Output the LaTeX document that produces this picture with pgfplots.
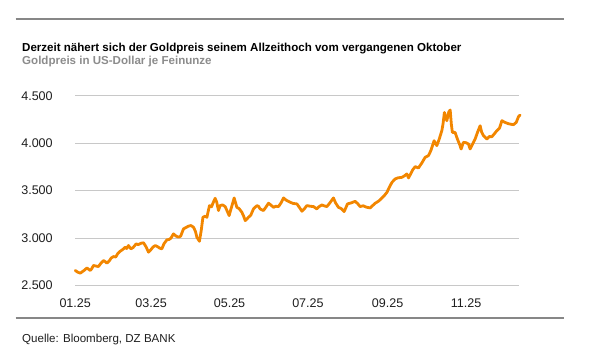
\documentclass[border=0pt]{standalone}
\usepackage{pgfplots}
\pgfplotsset{compat=1.18}
\usepackage{fontspec}
\setmainfont{Liberation Sans}
\definecolor{goldline}{RGB}{242,134,0}
\definecolor{gridgrey}{RGB}{200,200,200}
\definecolor{rulegrey}{RGB}{135,135,135}
\definecolor{subgrey}{RGB}{140,140,140}
\definecolor{ticktext}{RGB}{30,30,30}
\begin{document}
\begin{tikzpicture}[x=1bp,y=1bp]
\path[use as bounding box] (0,0) rectangle (605,355);
\draw[rulegrey, line width=2bp] (15.5,336) -- (564,336);
\draw[rulegrey, line width=2bp] (15.5,36.7) -- (564,36.7);
\node[anchor=base west, inner sep=0pt, font=\fontsize{11.6}{13}\selectfont\bfseries] at (22,303.3) {Derzeit nähert sich der Goldpreis seinem Allzeithoch vom vergangenen Oktober};
\node[anchor=base west, inner sep=0pt, text=subgrey, font=\fontsize{11.6}{13}\selectfont\bfseries] at (22,290.7) {Goldpreis in US-Dollar je Feinunze};
\node[anchor=base west, inner sep=0pt, text=ticktext, font=\fontsize{11.6}{13}\selectfont] at (22,12.3) {Quelle: Bloomberg, DZ BANK};
\begin{axis}[
  at={(58.5,73.3)}, anchor=south west,
  scale only axis, width=444bp, height=189.7bp,
  xmin=0, xmax=345.3, ymin=2500, ymax=4500,
  clip=false,
  axis line style={draw=none},
  major tick length=0pt,
  xtick={0,59,120,181,243,304},
  xticklabels={01.25,03.25,05.25,07.25,09.25,11.25},
  ytick={2500,3000,3500,4000,4500},
  ymajorgrids,
  major grid style={draw=gridgrey, line width=1bp},
  tick label style={font=\fontsize{12.6}{14}\selectfont, text=ticktext},
  xticklabel style={yshift=-10bp},
  yticklabel style={xshift=-19bp},
  /pgf/number format/assume math mode=true,
  /pgf/number format/1000 sep={.},
  /pgf/number format/fixed,
  scaled y ticks=false,
]
\addplot[goldline, line width=2.8bp, line join=round, line cap=round] table {
x y
0 2658
2 2640
3.9 2630
6 2650
7.5 2665
9.1 2686
10.5 2670
11.7 2658
13 2680
14.2 2711
16 2705
18.1 2700
20 2735
22 2763
23.5 2750
24.6 2735
26.5 2760
28 2790
29.8 2805
31.5 2800
33 2835
35 2861
37 2880
38.9 2903
40 2890
41.4 2921
43.3 2886
45 2900
47.4 2939
49 2930
51 2945
53.1 2950
55 2910
57 2851
59 2880
60.5 2905
62.2 2921
64 2910
65.5 2895
67.4 2886
69 2940
71.3 2981
73 2985
74.5 3000
76.4 3044
78.5 3020
80.3 3009
82 3020
84.2 3097
86 3110
88 3125
90 3132
92 3114
93.5 3070
94.6 3009
96.6 2966
98 3080
99.3 3219
101 3230
102.4 3219
104.4 3342
106 3330
107.5 3380
108.8 3419
110 3380
111.4 3290
112.7 3342
114.5 3350
116.6 3332
118 3290
119.7 3237
121 3300
122.5 3370
123.6 3423
125.7 3324
127.5 3310
129.6 3272
131 3230
132.2 3184
133.5 3200
134.7 3219
136.5 3240
138.6 3307
141.3 3342
142.5 3335
143.8 3307
146.4 3290
148.5 3330
150.3 3367
152 3350
154.2 3324
156 3335
158.1 3332
160 3370
162 3423
164 3400
167.2 3377
169.5 3365
172.4 3360
174.5 3320
176.3 3283
178 3305
180.1 3342
183 3335
185.3 3332
187.9 3307
189.5 3330
191.8 3349
193.5 3340
195.7 3332
198 3370
200.8 3423
202.5 3370
204.7 3324
207 3310
209.1 3279
210.5 3320
211.7 3360
214.5 3370
217.7 3387
219.5 3365
221.6 3332
224 3340
226.5 3325
229.4 3318
231.5 3345
233.3 3367
236 3390
238.5 3423
240.5 3450
242.4 3482
244.9 3553
246.5 3590
248.8 3623
251 3635
254 3640
256 3655
257.9 3676
259.2 3634
261 3680
262.5 3720
264.4 3753
266.9 3739
269.5 3790
272.1 3851
274.7 3869
276.5 3920
279.1 4026
281.2 3974
283 4040
285.1 4132
286 4200
287.1 4324
289 4237
290.5 4330
291.6 4350
292.5 4200
293.3 4114
295.4 4114
297.2 4044
299 3985
300.1 3939
301.9 4009
304 4005
305.8 3992
307.1 3939
309 3990
311 4044
313 4120
314.9 4184
316 4120
317.5 4079
320.1 4044
322 4070
324 4068
326 4100
327.9 4132
330 4160
331.8 4237
334.3 4219
337 4205
340.8 4195
343 4220
344.7 4279
346 4297
};
\end{axis}
\end{tikzpicture}
\end{document}
